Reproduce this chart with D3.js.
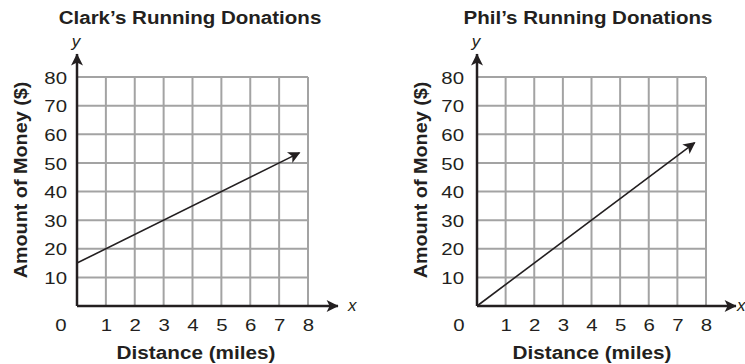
<!DOCTYPE html>
<html>
<head>
<meta charset="utf-8">
<script src="https://cdn.jsdelivr.net/npm/d3@7"></script>
<style>
  html, body { margin: 0; padding: 0; background: #fff; }
  svg { display: block; font-family: "Liberation Sans", Arial, Helvetica, sans-serif; }
</style>
</head>
<body>
<svg id="chart" width="745" height="364"></svg>
<script>
// ---- data ----
const titles = ["Clark\u2019s Running Donations", "Phil\u2019s Running Donations"];
const xTicks = [1, 2, 3, 4, 5, 6, 7, 8];
const yTicks = [10, 20, 30, 40, 50, 60, 70, 80];
const xLabel = "Distance (miles)";
const yLabel = "Amount of Money ($)";
const clarkX = [0, 7.7];
const clarkY = [15, 53.5];
const philX = [0, 7.6];
const philY = [0, 57];

const series = [
  clarkX.map((x, i) => ({ x, y: clarkY[i] })),
  philX.map((x, i) => ({ x, y: philY[i] }))
];

// ---- layout ----
const panels = [
  { left: 77, right: 308, titleX: 190, xLabX: 196, yLabX: 27, tickRight: 67, zeroX: 61, xLetterX: 348 },
  { left: 477, right: 706, titleX: 588, xLabX: 592, yLabX: 427, tickRight: 464, zeroX: 459, xLetterX: 737 }
];
const plotTop = 77, plotBottom = 306;
const ink = "#231f20";

const svg = d3.select("#chart");
const defs = svg.append("defs");
defs.append("marker")
  .attr("id", "arrowSmall")
  .attr("viewBox", "0 0 10 10")
  .attr("refX", 9).attr("refY", 5)
  .attr("markerUnits", "userSpaceOnUse")
  .attr("markerWidth", 15).attr("markerHeight", 12)
  .attr("orient", "auto")
  .append("path").attr("d", "M0,0 L10,5 L0,10 L2.5,5 Z").attr("fill", ink);
defs.append("marker")
  .attr("id", "arrowAxis")
  .attr("viewBox", "0 0 10 10")
  .attr("refX", 9.5).attr("refY", 5)
  .attr("markerUnits", "userSpaceOnUse")
  .attr("markerWidth", 15).attr("markerHeight", 12)
  .attr("orient", "auto")
  .append("path").attr("d", "M0,0 L10,5 L0,10 L2.5,5 Z").attr("fill", ink);

// text helper: wide-set text, scaled along its reading direction
function addText(parent, str, x, y, opts) {
  const o = Object.assign({ size: 17, sx: 1.12, weight: "normal", anchor: "middle", rotate: 0, style: "normal" }, opts || {});
  return parent.append("text")
    .attr("transform", `translate(${x},${y}) rotate(${o.rotate}) scale(${o.sx},1)`)
    .attr("text-anchor", o.anchor)
    .attr("font-size", o.size)
    .attr("font-weight", o.weight)
    .attr("font-style", o.style)
    .attr("fill", ink)
    .text(str);
}

panels.forEach((p, i) => {
  const x = d3.scaleLinear().domain([0, 8]).range([p.left, p.right]);
  const y = d3.scaleLinear().domain([0, 80]).range([plotBottom, plotTop]);
  const g = svg.append("g");

  // grid
  g.selectAll(".vgrid").data(xTicks).join("line")
    .attr("x1", d => x(d)).attr("x2", d => x(d))
    .attr("y1", y(0)).attr("y2", y(80))
    .attr("stroke", "#a3a3a3").attr("stroke-width", 2);
  g.selectAll(".hgrid").data(yTicks).join("line")
    .attr("x1", x(0)).attr("x2", x(8))
    .attr("y1", d => y(d)).attr("y2", d => y(d))
    .attr("stroke", "#a3a3a3").attr("stroke-width", 2);

  // axes with arrows
  g.append("line")
    .attr("x1", x(0)).attr("x2", x(8) + 30)
    .attr("y1", y(0)).attr("y2", y(0))
    .attr("stroke", ink).attr("stroke-width", 2.5)
    .attr("marker-end", "url(#arrowAxis)");
  g.append("line")
    .attr("x1", x(0)).attr("x2", x(0))
    .attr("y1", y(0)).attr("y2", y(80) - 23)
    .attr("stroke", ink).attr("stroke-width", 2.5)
    .attr("marker-end", "url(#arrowAxis)");

  // tick labels via d3 axes
  const ax = g.append("g").attr("transform", `translate(0,${plotBottom})`)
    .call(d3.axisBottom(x).tickValues(xTicks).tickSize(0).tickPadding(0).tickFormat(d3.format("d")));
  ax.select(".domain").remove();
  ax.selectAll("text").attr("dy", null).attr("y", 0)
    .attr("transform", "translate(0,25) scale(1.2,1)")
    .attr("fill", ink).attr("font-size", 17).attr("font-family", "Liberation Sans, Arial, sans-serif");

  const ay = g.append("g").attr("transform", `translate(${p.tickRight},0)`)
    .call(d3.axisLeft(y).tickValues(yTicks).tickSize(0).tickPadding(0).tickFormat(d3.format("d")));
  ay.select(".domain").remove();
  ay.selectAll("text").attr("x", 0).attr("dy", "0.36em")
    .attr("transform", "scale(1.2,1)")
    .attr("fill", ink).attr("font-size", 17).attr("font-family", "Liberation Sans, Arial, sans-serif");

  addText(g, "0", p.zeroX, plotBottom + 25, { size: 17, sx: 1.2 });

  // axis letters
  addText(g, "x", p.xLetterX, y(0) + 5, { size: 17, sx: 1, anchor: "start", style: "italic" });
  addText(g, "y", x(0) - 1, 47, { size: 17, sx: 1, style: "italic" });

  // data line
  g.append("path").datum(series[i])
    .attr("d", d3.line().x(d => x(d.x)).y(d => y(d.y)))
    .attr("fill", "none").attr("stroke", ink).attr("stroke-width", 1.6)
    .attr("marker-end", "url(#arrowSmall)");

  // titles
  addText(g, titles[i], p.titleX, 24, { size: 18.5, sx: 1.11, weight: "bold" });
  addText(g, xLabel, p.xLabX, 359, { size: 18.5, sx: 1.12, weight: "bold" });
  addText(g, yLabel, p.yLabX, 180, { size: 18, sx: 1.1, weight: "bold", rotate: -90 });
});
</script>
</body>
</html>
